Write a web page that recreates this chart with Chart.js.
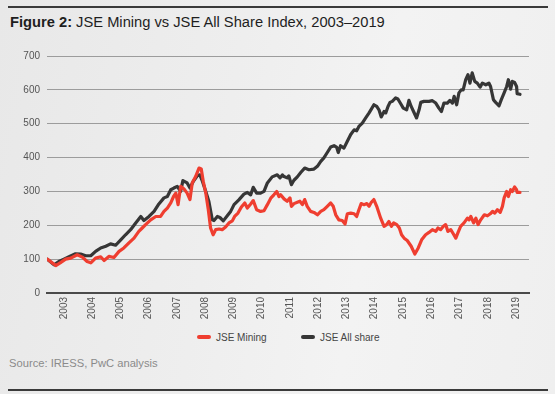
<!DOCTYPE html>
<html><head><meta charset="utf-8">
<script src="https://cdn.jsdelivr.net/npm/chart.js@4.4.0/dist/chart.umd.min.js"></script>
<style>
html,body{margin:0;padding:0;width:555px;height:394px;overflow:hidden;}
body{position:relative;background:linear-gradient(100deg,#e8e8e8 0%,#eeeeee 40%,#f3f3f3 65%,#efefef 100%);font-family:"Liberation Sans",Arial,sans-serif;}
.rule{position:absolute;left:8px;width:540px;height:2px;background:#3a3a3a;}
#title{position:absolute;left:10px;top:14px;font-size:14.7px;line-height:17px;color:#1e1e1e;white-space:nowrap;}
#title b{font-weight:bold;}
#src{position:absolute;left:9px;top:357px;font-size:11.2px;line-height:13px;color:#8a8a8a;white-space:nowrap;}
#legend{position:absolute;left:0;top:331px;height:13px;width:555px;font-size:10px;line-height:13px;color:#454545;}
.item{position:absolute;top:0;white-space:nowrap;}
.sw{display:inline-block;width:14px;height:4px;border-radius:2px;vertical-align:middle;margin-right:5px;position:relative;top:-1px;}
canvas{position:absolute;left:0;top:0;}
</style></head>
<body>
<div class="rule" style="top:6px"></div>
<div id="title"><b>Figure 2:</b> JSE Mining vs JSE All Share Index, 2003–2019</div>
<canvas id="c" width="555" height="330"></canvas>
<div id="legend"></div>
<div id="src">Source: IRESS, PwC analysis</div>
<div class="rule" style="top:389px"></div>
<script>
const seriesNames = ['JSE Mining', 'JSE All share'];
const seriesColors = ['#ef3e30', '#363636'];
const yearTicks = [2003,2004,2005,2006,2007,2008,2009,2010,2011,2012,2013,2014,2015,2016,2017,2018,2019];
const yTicks = [0,100,200,300,400,500,600,700];

const allShareYears = [
 2002.41,2002.65,2002.82,
 2003.00,2003.18,2003.41,2003.59,2003.77,2003.95,
 2004.12,2004.30,2004.48,2004.65,2004.83,
 2005.01,2005.18,2005.36,2005.54,2005.72,2005.83,
 2006.01,2006.19,2006.36,2006.54,2006.66,2006.78,2006.89,
 2007.01,2007.13,2007.21,2007.36,2007.46,2007.58,2007.72,2007.81,2007.90,
 2008.02,2008.13,2008.25,2008.31,2008.43,2008.52,2008.64,2008.78,2008.90,
 2009.02,2009.19,2009.37,2009.49,2009.61,2009.70,2009.82,2009.96,
 2010.08,2010.20,2010.37,2010.55,2010.65,2010.73,2010.79,2010.90,2010.96,
 2011.05,2011.14,2011.26,2011.38,2011.52,2011.67,2011.85,2011.97,
 2012.09,2012.20,2012.32,2012.44,2012.56,2012.65,2012.71,2012.79,2012.91,
 2013.03,2013.15,2013.27,2013.36,2013.44,2013.56,2013.68,2013.80,2013.88,2013.97,
 2014.07,2014.15,2014.23,2014.33,2014.39,2014.47,2014.54,2014.62,2014.74,2014.82,2014.92,
 2015.01,2015.13,2015.21,2015.29,2015.39,2015.48,2015.57,2015.63,2015.74,2015.92,
 2016.04,2016.16,2016.27,2016.36,2016.45,2016.57,2016.66,2016.75,2016.81,2016.90,2016.98,
 2017.06,2017.13,2017.22,2017.30,2017.37,2017.45,2017.54,2017.63,2017.73,2017.81,2017.93,
 2018.04,2018.10,2018.20,2018.28,2018.40,2018.48,2018.58,2018.67,2018.73,2018.81,2018.87,2018.95,
 2019.02,2019.04,2019.14
];
const allShareValues = [
 100,83,93,
 100,107,116,115,110,110,
 123,133,138,145,141,
 157,172,187,207,226,214,
 226,241,263,281,285,305,310,
 315,300,332,325,310,330,346,349,330,
 300,270,216,214,226,223,213,228,241,
 261,275,292,297,290,312,295,295,
 300,325,343,349,340,349,344,340,346,
 320,333,343,356,369,364,366,374,
 389,399,415,431,435,431,415,435,428,
 448,468,482,479,492,502,517,532,543,556,
 551,541,520,536,532,551,563,566,576,573,559,
 546,541,569,551,533,517,541,563,566,566,
 568,561,546,536,561,561,569,561,581,556,591,
 600,600,630,645,620,650,625,620,608,620,615,
 620,610,571,563,553,571,591,610,630,602,625,622,
 610,589,587
];

const miningYears = [
 2002.41,2002.71,2002.88,
 2003.06,2003.24,2003.47,2003.65,2003.82,2003.95,
 2004.12,2004.30,2004.42,2004.59,2004.77,2004.95,
 2005.12,2005.30,2005.48,2005.65,2005.77,2005.89,
 2006.07,2006.25,2006.42,2006.54,2006.66,2006.78,2006.88,2006.96,
 2007.04,2007.13,2007.25,2007.36,2007.46,2007.54,2007.66,2007.78,2007.86,2007.93,
 2008.02,2008.11,2008.19,2008.28,2008.37,2008.49,2008.60,2008.72,2008.84,2008.96,
 2009.04,2009.16,2009.28,2009.40,2009.49,2009.61,2009.70,2009.82,2009.96,
 2010.08,2010.20,2010.32,2010.43,2010.53,2010.61,2010.67,2010.79,2010.90,
 2011.00,2011.05,2011.14,2011.26,2011.35,2011.44,2011.52,2011.61,2011.73,2011.85,2011.97,
 2012.09,2012.20,2012.32,2012.44,2012.53,2012.62,2012.73,2012.85,2012.95,
 2013.03,2013.15,2013.27,2013.36,2013.44,2013.52,2013.62,2013.72,2013.80,2013.88,2013.97,
 2014.07,2014.21,2014.33,2014.42,2014.50,2014.59,2014.67,2014.78,2014.87,2014.95,
 2015.04,2015.15,2015.29,2015.42,2015.54,2015.66,2015.80,2015.92,
 2016.04,2016.16,2016.24,2016.33,2016.43,2016.51,2016.59,2016.69,2016.78,2016.87,2016.95,
 2017.04,2017.16,2017.28,2017.34,2017.40,2017.50,2017.58,2017.66,2017.75,2017.88,2017.99,
 2018.09,2018.17,2018.25,2018.34,2018.44,2018.52,2018.58,2018.67,2018.73,2018.81,2018.87,2018.95,
 2019.02,2019.04,2019.14
];
const miningValues = [
 100,81,90,
 100,103,113,106,93,89,
 103,107,96,108,105,123,
 133,148,162,182,192,202,
 216,226,226,241,251,266,285,295,
 261,315,307,295,276,325,344,369,366,330,
 295,246,192,172,187,189,187,195,207,213,
 226,236,254,266,251,263,273,246,241,
 243,261,280,290,300,285,290,278,271,
 281,256,264,268,271,261,276,256,241,238,231,
 241,246,256,266,256,231,216,214,204,
 234,236,234,226,246,264,261,264,256,268,276,
 256,221,197,202,211,197,207,202,192,172,
 162,155,138,115,133,157,172,179,
 187,182,192,187,197,202,182,187,175,162,179,
 197,207,221,216,226,207,221,202,216,231,228,
 234,241,236,246,238,256,281,300,285,305,300,313,
 305,297,297
];

const toPoints = (xs, ys) => xs.map((x, i) => ({x: x, y: ys[i]}));

const chart = new Chart(document.getElementById('c'), {
  type: 'line',
  data: {
    datasets: [
      {label: seriesNames[0], data: toPoints(miningYears, miningValues), borderColor: seriesColors[0], backgroundColor: seriesColors[0]},
      {label: seriesNames[1], data: toPoints(allShareYears, allShareValues), borderColor: seriesColors[1], backgroundColor: seriesColors[1]}
    ]
  },
  options: {
    responsive: false,
    animation: false,
    devicePixelRatio: 1,
    layout: {padding: {top: 56, right: 26, left: 0, bottom: 0}},
    elements: {
      point: {radius: 0, hoverRadius: 0},
      line: {borderWidth: 3.2, tension: 0, borderJoinStyle: 'round', borderCapStyle: 'round'}
    },
    plugins: {legend: {display: false}, tooltip: {enabled: false}},
    scales: {
      x: {
        type: 'linear',
        min: 2002.4,
        max: 2019.46,
        afterBuildTicks: s => { s.ticks = yearTicks.map(v => ({value: v})); },
        afterFit: s => { s.height = 37; },
        grid: {display: false, drawTicks: false},
        border: {display: true, color: '#4a4a4a', width: 2},
        ticks: {
          minRotation: 90, maxRotation: 90, autoSkip: false, padding: 4,
          color: '#555', font: {family: '"Liberation Sans", Arial, sans-serif', size: 10},
          callback: v => String(v)
        }
      },
      y: {
        min: 0, max: 700,
        afterBuildTicks: s => { s.ticks = yTicks.map(v => ({value: v})); },
        afterFit: s => { s.width = 47; },
        grid: {color: '#9c9c9c', lineWidth: 1, drawTicks: false},
        border: {display: false},
        ticks: {
          padding: 7, color: '#555', font: {family: '"Liberation Sans", Arial, sans-serif', size: 10}
        }
      }
    }
  }
});

// HTML legend built from the dataset names/colours
const legend = document.getElementById('legend');
const legendX = [197, 301];
seriesNames.forEach((name, i) => {
  const d = document.createElement('div');
  d.className = 'item';
  d.style.left = legendX[i] + 'px';
  d.innerHTML = '<span class="sw" style="background:' + seriesColors[i] + '"></span>' + name;
  legend.appendChild(d);
});
</script>
</body></html>
